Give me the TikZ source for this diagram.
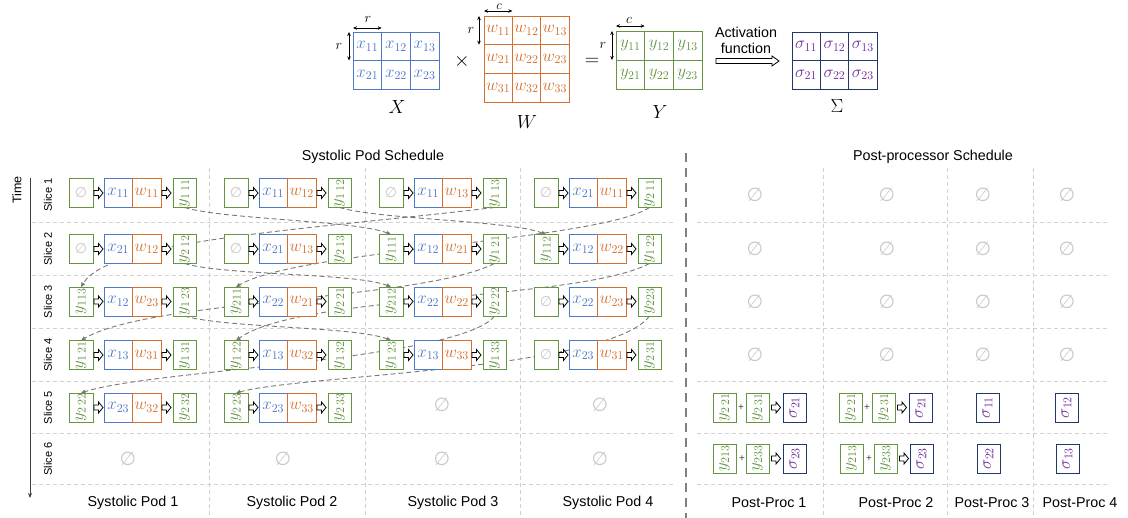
\documentclass[tikz,border=0pt]{standalone}
\usepackage{fix-cm}
\usepackage{fontspec}
\setmainfont{Liberation Sans}
\newfontfamily\symfont{DejaVu Sans}
\usetikzlibrary{calc,arrows.meta}
\definecolor{cblue}{RGB}{78,120,200}
\definecolor{corange}{RGB}{214,110,45}
\definecolor{cgreen}{RGB}{100,150,65}
\definecolor{cnavy}{RGB}{32,56,110}
\definecolor{cpurple}{RGB}{112,48,160}
\definecolor{cempty}{RGB}{200,200,200}
\definecolor{cgridc}{RGB}{208,208,208}
\definecolor{cflow}{RGB}{120,120,120}
\pgfdeclarelayer{bg}
\pgfsetlayers{bg,main}
\newcommand\mfont{\fontsize{17}{17}\selectfont}
\newcommand\ry[1]{\rotatebox{90}{$#1$}}
\newcommand\nul{{\symfont ∅}}
\tikzset{
  cellbox/.style={draw, fill=white, line width=0.9pt, inner sep=0pt, outer sep=0pt, minimum height=29pt, anchor=west},
  xbox/.style={cellbox, draw=cblue, text=cblue, minimum width=28.5pt, font=\mfont},
  wbox/.style={cellbox, draw=corange, text=corange, minimum width=28.5pt, font=\mfont},
  ybox/.style={cellbox, draw=cgreen, text=cgreen, minimum width=23pt, font=\mfont},
  yin/.style={ybox, minimum width=24pt},
  ebox/.style={cellbox, draw=cgreen, text=cempty, minimum width=24pt, font=\fontsize{14}{14}\selectfont},
  sbox/.style={cellbox, draw=cnavy, text=cpurple, minimum width=23pt, font=\mfont},
  gridln/.style={draw=cgridc, line width=0.8pt, dash pattern=on 4pt off 3pt},
  flow/.style={draw=cflow, line width=0.9pt, dash pattern=on 5pt off 3pt, -{Triangle[length=4.5pt,width=4pt]}},
  emptyc/.style={text=cempty, font=\fontsize{19}{19}\selectfont},
  lbl/.style={font=\fontsize{14.3}{16}\selectfont},
  slicel/.style={font=\fontsize{11}{12}\selectfont, rotate=90},
  mcell/.style={draw, line width=0.9pt, inner sep=0pt, outer sep=0pt, font=\mfont},
  dimarr/.style={line width=0.6pt, {Stealth[length=4pt,width=3.5pt]}-{Stealth[length=4pt,width=3.5pt]}},
  dimlbl/.style={font=\fontsize{14}{14}\selectfont, inner sep=0pt},
  plus/.style={font=\fontsize{10}{10}\selectfont, text=black!75, inner sep=0pt},
  pics/harr/.style={code={\draw[fill=white, line width=0.8pt] (1,-2.5) -- (5.5,-2.5) -- (5.5,-5.5) -- (10,0) -- (5.5,5.5) -- (5.5,2.5) -- (1,2.5) -- cycle;}},
}
\newcommand\podcell[8]{%
  \node[#4] (#1i) at (#2,#3) {#5};
  \pic at (#1i.east) {harr};
  \node[xbox] (#1x) at (#2+35,#3) {$x_{#6}$};
  \node[wbox] (#1w) at (#1x.east) {$w_{#7}$};
  \pic at (#1w.east) {harr};
  \node[ybox] (#1o) at (#2+104,#3) {\ry{#8}};
}
\begin{document}
\begin{tikzpicture}[x=1pt,y=-1pt]
\useasboundingbox (0,0) rectangle (1128,518);

% ---------- top matrices ----------
\foreach \i in {1,2} \foreach \j in {1,2,3}
  \node[mcell, draw=cblue, text=cblue, minimum width=28.67pt, minimum height=28.5pt] (X\i\j) at ({353+28.67*(\j-0.5)},{32+28.5*(\i-0.5)}) {$x_{\i\j}$};
\foreach \i in {1,2,3} \foreach \j in {1,2,3}
  \node[mcell, draw=corange, text=corange, minimum width=28.33pt, minimum height=28.67pt] (W\i\j) at ({484+28.33*(\j-0.5)},{16+28.67*(\i-0.5)}) {$w_{\i\j}$};
\foreach \i in {1,2} \foreach \j in {1,2,3}
  \node[mcell, draw=cgreen, text=cgreen, minimum width=28.67pt, minimum height=29pt] (Y\i\j) at ({616+28.67*(\j-0.5)},{31+29*(\i-0.5)}) {$y_{\i\j}$};
\foreach \i in {1,2} \foreach \j in {1,2,3}
  \node[mcell, draw=cnavy, text=cpurple, minimum width=28.33pt, minimum height=28.5pt] (S\i\j) at ({792+28.33*(\j-0.5)},{32+28.5*(\i-0.5)}) {$\sigma_{\i\j}$};

\draw[dimarr] ($(X11.north west)+(0,-4)$) -- ($(X11.north east)+(0,-4)$);
\draw[dimarr] ($(X11.north west)+(-4,0)$) -- ($(X11.south west)+(-4,0)$);
\node[dimlbl] at (368,19) {$r$};
\node[dimlbl] at (339,46) {$r$};
\draw[dimarr] ($(W11.north west)+(0,-5)$) -- ($(W11.north east)+(0,-5)$);
\draw[dimarr] ($(W11.north west)+(-5,0)$) -- ($(W11.south west)+(-5,0)$);
\node[dimlbl, font=\fontsize{13}{13}\selectfont] at (499,6.5) {$c$};
\node[dimlbl] at (471,30) {$r$};
\draw[dimarr] ($(Y11.north west)+(0,-5)$) -- ($(Y11.north east)+(0,-5)$);
\draw[dimarr] ($(Y11.north west)+(-4,0)$) -- ($(Y11.south west)+(-4,0)$);
\node[dimlbl] at (629,20) {$c$};
\node[dimlbl] at (603,45) {$r$};

\node[font=\fontsize{19}{19}\selectfont] at (397,107) {$X$};
\node[font=\fontsize{19}{19}\selectfont] at (527,122) {$W$};
\node[font=\fontsize{19}{19}\selectfont] at (660,112) {$Y$};
\node[font=\fontsize{19}{19}\selectfont] at (837,106) {$\Sigma$};
\node[font=\fontsize{20}{20}\selectfont] at (462,62) {$\times$};
\node[font=\fontsize{20}{20}\selectfont] at (592,62) {$=$};
\node[lbl, align=center] (act) at (746,40) {Activation\\function};
\draw[fill=white, line width=0.8pt] (716,58.5) -- (772,58.5) -- (772,56) -- (779,61) -- (772,66) -- (772,63.5) -- (716,63.5) -- cycle;

% ---------- titles and axes ----------
\node[lbl] at (373,157) {Systolic Pod Schedule};
\node[lbl] at (933,157) {Post-processor Schedule};
\node[font=\fontsize{12.5}{13}\selectfont, rotate=90] at (17,190) {Time};
\draw[line width=0.8pt, black!75, -{Stealth[length=5pt,width=4pt]}] (30,178) -- (30,498);
\foreach \s/\y in {1/195,2/249,3/301.5,4/355,5/407.5,6/459}
  \node[slicel] at (48,\y) {Slice \s};
\foreach \t/\x in {1/133,2/292,3/453,4/608}
  \node[lbl] at (\x,503) {Systolic Pod \t};
\foreach \t/\x in {1/769,2/896,3/992,4/1080}
  \node[lbl] at (\x,503) {Post-Proc \t};

% ---------- cells ----------
\podcell{c11}{69}{193}{ebox}{\nul}{11}{11}{y_{1\,11}}
\podcell{c12}{224}{193}{ebox}{\nul}{11}{12}{y_{1\,12}}
\podcell{c13}{379}{193}{ebox}{\nul}{11}{13}{y_{1\,13}}
\podcell{c14}{534}{193}{ebox}{\nul}{21}{11}{y_{2\,11}}
\podcell{c21}{69}{249}{ebox}{\nul}{21}{12}{y_{2\,12}}
\podcell{c22}{224}{249}{ebox}{\nul}{21}{13}{y_{2\,13}}
\podcell{c23}{379}{249}{yin}{\ry{y_{111}}}{12}{21}{y_{1\,21}}
\podcell{c24}{534}{249}{yin}{\ry{y_{112}}}{12}{22}{y_{1\,22}}
\podcell{c31}{69}{301.5}{yin}{\ry{y_{113}}}{12}{23}{y_{1\,23}}
\podcell{c32}{224}{301.5}{yin}{\ry{y_{211}}}{22}{21}{y_{2\,21}}
\podcell{c33}{379}{301.5}{yin}{\ry{y_{212}}}{22}{22}{y_{2\,22}}
\podcell{c34}{534}{301.5}{ebox}{\nul}{22}{23}{y_{223}}
\podcell{c41}{69}{355}{yin}{\ry{y_{1\,21}}}{13}{31}{y_{1\,31}}
\podcell{c42}{224}{355}{yin}{\ry{y_{1\,22}}}{13}{32}{y_{1\,32}}
\podcell{c43}{379}{355}{yin}{\ry{y_{1\,23}}}{13}{33}{y_{1\,33}}
\podcell{c44}{534}{355}{ebox}{\nul}{23}{31}{y_{2\,31}}
\podcell{c51}{69}{407.5}{yin}{\ry{y_{2\,22}}}{23}{32}{y_{2\,32}}
\podcell{c52}{224}{407.5}{yin}{\ry{y_{2\,23}}}{23}{33}{y_{2\,33}}

% empty grid cells
\foreach \n/\x/\y in {e53/442/405,e54/600/405,e61/128/459,e62/283/459,e63/442/459,e64/600/459}
  \node[emptyc] (\n) at (\x,\y) {\nul};
\foreach \r/\y in {1/195,2/249,3/302,4/355}
  \foreach \c/\x in {1/755,2/887,3/983,4/1067}
    \node[emptyc] (pe\r\c) at (\x,\y) {\nul};

% post-processor cells
\node[ybox] (q51a) at (713,407.5) {\ry{y_{2\,21}}};
\node[plus] (q51p) at (741,407.5) {+};
\node[ybox] (q51b) at (746,407.5) {\ry{y_{2\,31}}};
\pic at ($(q51b.east)+(1.5,0)$) {harr};
\node[sbox] (q51s) at (783,407.5) {\ry{\sigma_{21}}};
\node[ybox] (q52a) at (839,407.5) {\ry{y_{2\,21}}};
\node[plus] (q52p) at (867,407.5) {+};
\node[ybox] (q52b) at (872,407.5) {\ry{y_{2\,31}}};
\pic at ($(q52b.east)+(1.5,0)$) {harr};
\node[sbox] (q52s) at (909,407.5) {\ry{\sigma_{21}}};
\node[sbox] (q53s) at (976,407.5) {\ry{\sigma_{11}}};
\node[sbox] (q54s) at (1055,407.5) {\ry{\sigma_{12}}};
\node[ybox] (q61a) at (713,458.5) {\ry{y_{213}}};
\node[plus] (q61p) at (742,458.5) {+};
\node[ybox] (q61b) at (746,458.5) {\ry{y_{233}}};
\pic at ($(q61b.east)+(1.5,0)$) {harr};
\node[sbox] (q61s) at (783,458.5) {\ry{\sigma_{23}}};
\node[ybox] (q62a) at (840,458.5) {\ry{y_{213}}};
\node[plus] (q62p) at (869,458.5) {+};
\node[ybox] (q62b) at (874,458.5) {\ry{y_{233}}};
\pic at ($(q62b.east)+(1.5,0)$) {harr};
\node[sbox] (q62s) at (910,458.5) {\ry{\sigma_{23}}};
\node[sbox] (q63s) at (977,458.5) {\ry{\sigma_{22}}};
\node[sbox] (q64s) at (1056,458.5) {\ry{\sigma_{13}}};

% ---------- background: grid and flows ----------
\begin{pgfonlayer}{bg}
  \foreach \y in {222,275,328,381,433,484} {
    \draw[gridln] (32,\y) -- (673,\y);
    \draw[gridln] (697,\y) -- (1108,\y);
  }
  \foreach \x in {209,365,520,823,947,1033}
    \draw[gridln] (\x,168) -- (\x,518);
  \draw[line width=2pt, black!50, dash pattern=on 9pt off 6pt] (686,153) -- (686,518);

  \draw[flow] (c11o.south) .. controls ($(c11o.south)+(40,12)$) and ($(c23i.north)+(-35,-14)$) .. (c23i.north);
  \draw[flow] (c12o.south) .. controls ($(c12o.south)+(40,12)$) and ($(c24i.north)+(-35,-14)$) .. (c24i.north);
  \draw[flow] (c13o.south) .. controls ($(c13o.south)+(-194,23)$) and ($(c31i.north)+(29,-47)$) .. (c31i.north);
  \draw[flow] (c14o.south) .. controls ($(c14o.south)+(-50,33)$) and ($(c32i.north)+(62,-37)$) .. (c32i.north);
  \draw[flow] (c21o.south) .. controls ($(c21o.south)+(40,12)$) and ($(c33i.north)+(-35,-14)$) .. (c33i.north);
  \draw[flow] (c23o.south) .. controls ($(c23o.south)+(-74,37)$) and ($(c41i.north)+(69,-41)$) .. (c41i.north);
  \draw[flow] (c24o.south) .. controls ($(c24o.south)+(-70,37)$) and ($(c42i.north)+(64,-46)$) .. (c42i.north);
  \draw[flow] (c31o.south) .. controls ($(c31o.south)+(40,12)$) and ($(c43i.north)+(-35,-14)$) .. (c43i.north);
  \draw[flow] (c33o.south) .. controls ($(c33o.south)+(-34,44)$) and ($(c51i.north)+(69,-23)$) .. (c51i.north);
  \draw[flow] (c34o.south) .. controls ($(c34o.south)+(-40,54)$) and ($(c52i.north)+(64,-18)$) .. (c52i.north);
\end{pgfonlayer}
\end{tikzpicture}
\end{document}
